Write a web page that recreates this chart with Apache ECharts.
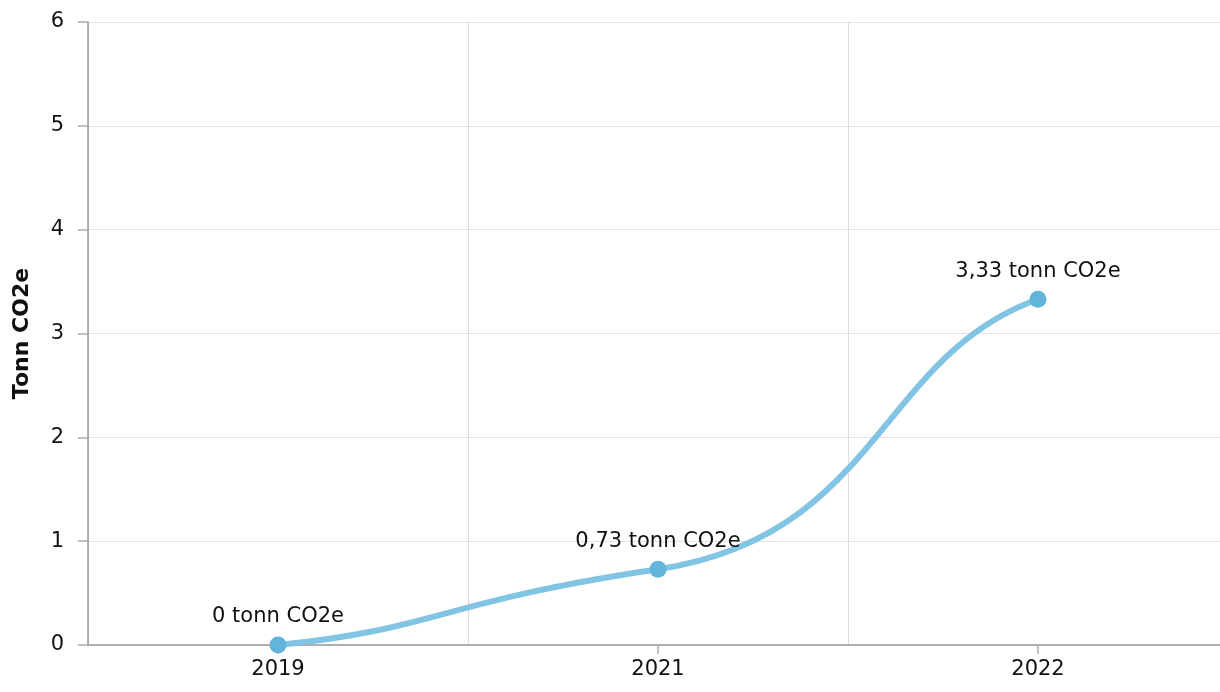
<!DOCTYPE html>
<html><head><meta charset="utf-8">
<script src="https://cdn.jsdelivr.net/npm/echarts@6/dist/echarts.min.js"></script>
<style>html,body{margin:0;padding:0;background:#fff}#c{width:1220px;height:692px}</style>
</head><body><div id="c"></div>
<script>
const categories = ['2019', '2021', '2022'];
const values = [0, 0.73, 3.33];
const labels = ['0 tonn CO2e', '0,73 tonn CO2e', '3,33 tonn CO2e'];
const yTicks = [0, 1, 2, 3, 4, 5, 6];

// smoothing rule (style, not data): handle fractions and tangent damping
const END_HANDLE = 0.42, MID_HANDLE = 0.58, MID_DAMP = 0.75;

function smoothPath(pts) {
  const n = pts.length;
  const s = [];
  for (let k = 0; k < n - 1; k++) s.push((pts[k + 1][1] - pts[k][1]) / (pts[k + 1][0] - pts[k][0]));
  const m = pts.map((p, k) => {
    if (k === 0) return s[0] / 2;
    if (k === n - 1) return s[n - 2] / 2;
    if (s[k - 1] * s[k] <= 0) return 0;
    return Math.sign(s[k]) * MID_DAMP * Math.min(Math.abs(s[k - 1]), Math.abs(s[k]));
  });
  let d = 'M' + pts[0][0] + ' ' + pts[0][1];
  for (let i = 0; i < n - 1; i++) {
    const A = pts[i], B = pts[i + 1], h = B[0] - A[0];
    const fa = i === 0 ? END_HANDLE : MID_HANDLE;
    const fb = i + 1 === n - 1 ? END_HANDLE : MID_HANDLE;
    const c1 = [A[0] + fa * h, A[1] + m[i] * fa * h];
    const c2 = [B[0] - fb * h, B[1] - m[i + 1] * fb * h];
    d += ' C' + c1[0] + ' ' + c1[1] + ' ' + c2[0] + ' ' + c2[1] + ' ' + B[0] + ' ' + B[1];
  }
  return d;
}

const chart = echarts.init(document.getElementById('c'));
chart.setOption({
  animation: false,
  textStyle: { fontFamily: 'DejaVu Sans' },
  grid: { left: 88, width: 1140, top: 22, height: 623, containLabel: false, outerBoundsMode: 'none' },
  xAxis: {
    type: 'category', data: categories, boundaryGap: true,
    axisLine: { show: true, lineStyle: { color: '#999999', width: 1.5 } },
    axisTick: { show: true, alignWithLabel: true, length: 9, lineStyle: { color: '#aaaaaa', width: 1.5 } },
    splitLine: { show: true, lineStyle: { color: '#dcdcdc', width: 1 } },
    axisLabel: { color: '#111', fontSize: 21, margin: 14, fontFamily: 'DejaVu Sans' }
  },
  yAxis: {
    type: 'value', min: yTicks[0], max: yTicks[yTicks.length - 1], interval: 1,
    name: 'Tonn CO2e', nameLocation: 'middle', nameGap: 55, nameRotate: 90,
    nameTextStyle: { fontSize: 22, fontWeight: 'bold', color: '#111', fontFamily: 'DejaVu Sans' },
    axisLine: { show: true, lineStyle: { color: '#999999', width: 1.5 } },
    axisTick: { show: true, length: 10, lineStyle: { color: '#aaaaaa', width: 1.5 } },
    splitLine: { show: true, lineStyle: { color: '#e3e3e3', width: 1 } },
    axisLabel: { color: '#111', fontSize: 21, margin: 24, fontFamily: 'DejaVu Sans' }
  },
  series: [{
    type: 'custom',
    data: values.map((v, i) => [i, v]),
    z: 2,
    silent: true,
    renderItem: function (params, api) {
      if (params.dataIndex !== 0) return null;
      const pts = values.map((v, i) => api.coord([i, v]));
      return {
        type: 'path',
        shape: { pathData: smoothPath(pts) },
        style: { fill: null, stroke: '#82c4e3', lineWidth: 6, lineCap: 'round' }
      };
    }
  }, {
    type: 'line', z: 3,
    data: values.map((v, i) => ({ value: v, label: { formatter: labels[i] } })),
    symbol: 'circle', symbolSize: 17,
    lineStyle: { width: 0, opacity: 0 },
    itemStyle: { color: '#62b4db' },
    label: { show: true, position: 'top', distance: 9, color: '#111', fontSize: 21, fontFamily: 'DejaVu Sans' }
  }]
});
</script></body></html>
